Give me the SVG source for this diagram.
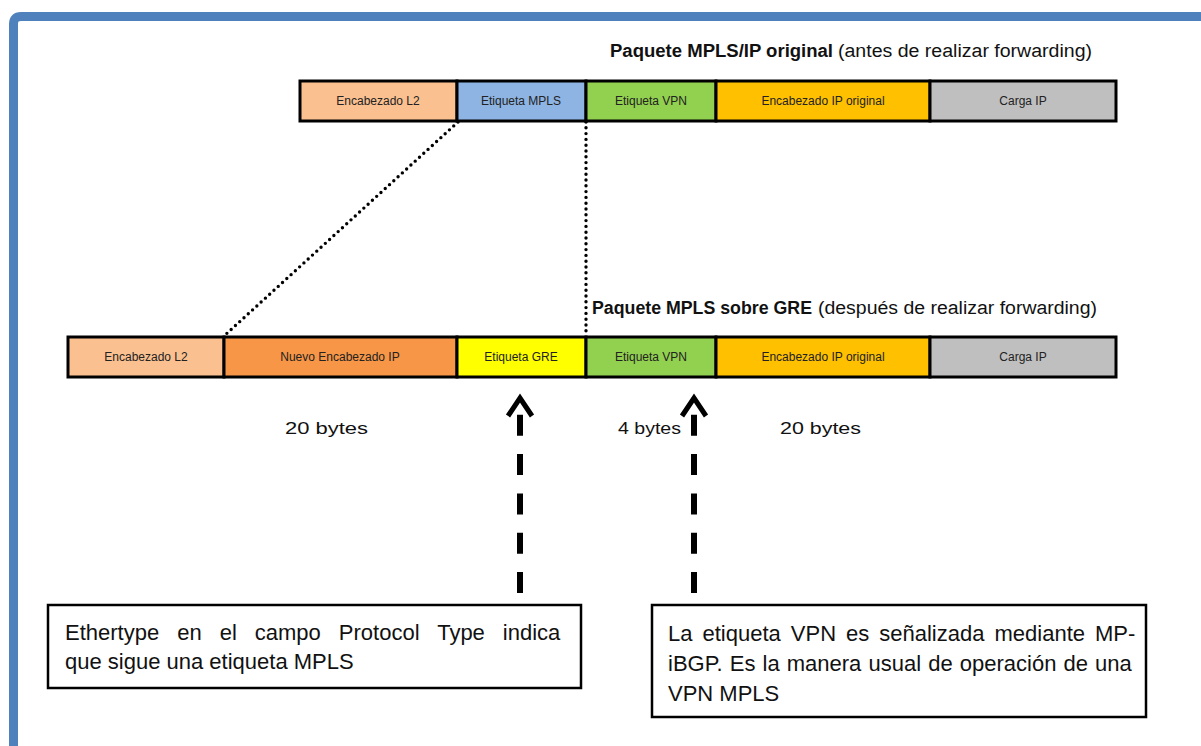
<svg xmlns="http://www.w3.org/2000/svg" width="1201" height="746" viewBox="0 0 1201 746">
<style>
.cell{stroke:#000;stroke-width:3}
.cl{font-family:"Liberation Sans",Arial,sans-serif;font-size:12px;fill:#222;text-anchor:middle}
.tt{font-family:"Liberation Sans",Arial,sans-serif;font-size:18px;fill:#111}
.b{font-weight:bold}
.by{font-family:"Liberation Sans",Arial,sans-serif;font-size:17px;fill:#111}
.bx{fill:#fff;stroke:#000;stroke-width:2.5}
.bt{font-family:"Liberation Sans",Arial,sans-serif;font-size:22px;fill:#111}
.dot{stroke:#000;stroke-width:3.4;stroke-linecap:round;stroke-dasharray:0 5.8;fill:none}
.dash{stroke:#000;stroke-width:6;stroke-dasharray:21 18.3;fill:none}
.head{stroke:#000;stroke-width:5;fill:none;stroke-linejoin:miter}
</style>
<rect width="1201" height="746" fill="#fff"/>
<path d="M13.5,760 V24 Q13.5,16.5 21,16.5 H1215" fill="none" stroke="#4F81BD" stroke-width="9"/>

<g id="title-original">
<text class="tt" x="610" y="57"><tspan class="b" textLength="223" lengthAdjust="spacingAndGlyphs">Paquete MPLS/IP original</tspan><tspan x="838" textLength="254" lengthAdjust="spacingAndGlyphs">(antes de realizar forwarding)</tspan></text>
</g>
<g id="title-gre">
<text class="tt" x="592" y="314"><tspan class="b" textLength="220" lengthAdjust="spacingAndGlyphs">Paquete MPLS sobre GRE</tspan><tspan x="818" textLength="279" lengthAdjust="spacingAndGlyphs">(después de realizar forwarding)</tspan></text>
</g>

<g id="packet-original">
<rect class="cell" x="300" y="81" width="157" height="40" fill="#FAC090"/>
<rect class="cell" x="457" y="81" width="129" height="40" fill="#8DB4E2"/>
<rect class="cell" x="586" y="81" width="130" height="40" fill="#92D050"/>
<rect class="cell" x="716" y="81" width="214" height="40" fill="#FFC000"/>
<rect class="cell" x="930" y="81" width="186" height="40" fill="#BFBFBF"/>
<text class="cl" x="378" y="105">Encabezado L2</text>
<text class="cl" x="521" y="105">Etiqueta MPLS</text>
<text class="cl" x="651" y="105">Etiqueta VPN</text>
<text class="cl" x="823" y="105">Encabezado IP original</text>
<text class="cl" x="1023" y="105">Carga IP</text>
</g>

<g id="packet-gre">
<rect class="cell" x="68" y="337" width="156" height="40" fill="#FAC090"/>
<rect class="cell" x="224" y="337" width="233" height="40" fill="#F79646"/>
<rect class="cell" x="457" y="337" width="129" height="40" fill="#FFFF00"/>
<rect class="cell" x="586" y="337" width="130" height="40" fill="#92D050"/>
<rect class="cell" x="716" y="337" width="214" height="40" fill="#FFC000"/>
<rect class="cell" x="930" y="337" width="186" height="40" fill="#BFBFBF"/>
<text class="cl" x="146" y="361">Encabezado L2</text>
<text class="cl" x="340" y="361">Nuevo Encabezado IP</text>
<text class="cl" x="521" y="361">Etiqueta GRE</text>
<text class="cl" x="651" y="361">Etiqueta VPN</text>
<text class="cl" x="823" y="361">Encabezado IP original</text>
<text class="cl" x="1023" y="361">Carga IP</text>
</g>

<g id="sizes">
<text class="by" x="285" y="434" textLength="83" lengthAdjust="spacingAndGlyphs">20 bytes</text>
<text class="by" x="618" y="434" textLength="63" lengthAdjust="spacingAndGlyphs">4 bytes</text>
<text class="by" x="780" y="434" textLength="81" lengthAdjust="spacingAndGlyphs">20 bytes</text>
</g>

<g id="connectors">
<line class="dot" x1="458" y1="122" x2="224" y2="336"/>
<line class="dot" x1="586" y1="122" x2="586" y2="336"/>
<line class="dash" x1="520" y1="593" x2="520" y2="413"/>
<polyline class="head" points="508,416 520,398 532,416"/>
<line class="dash" x1="694" y1="593" x2="694" y2="413"/>
<polyline class="head" points="682,416 694,398 706,416"/>
</g>

<g id="note-ethertype">
<rect class="bx" x="48" y="605" width="533" height="83"/>
<text class="bt" x="65" y="640" word-spacing="11.9">Ethertype en el campo Protocol Type indica</text>
<text class="bt" x="65" y="669">que sigue una etiqueta MPLS</text>
</g>

<g id="note-vpn">
<rect class="bx" x="652" y="605" width="494" height="112"/>
<text class="bt" x="668" y="641" word-spacing="3.9">La etiqueta VPN es señalizada mediante MP-</text>
<text class="bt" x="668" y="671" word-spacing="1">iBGP. Es la manera usual de operación de una</text>
<text class="bt" x="668" y="701">VPN MPLS</text>
</g>
</svg>
